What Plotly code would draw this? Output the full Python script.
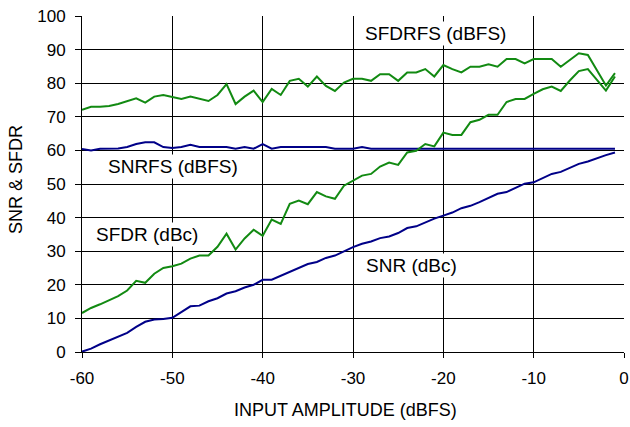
import plotly.graph_objects as go

x_vals = list(range(-60, 0))

snr_dbc = [0.1, 1.0, 2.3, 3.5, 4.5, 5.7, 7.5, 9.0, 9.7, 9.8,
           10.2, 11.8, 13.6, 13.8, 15.1, 16.0, 17.4, 18.1, 19.2, 20.0,
           21.5, 21.5, 22.7, 23.8, 25.0, 26.2, 26.8, 28.0, 28.7, 30.0,
           31.2, 32.2, 32.9, 33.9, 34.4, 35.4, 36.9, 37.4, 38.6, 39.7,
           40.6, 41.5, 42.8, 43.5, 44.6, 45.8, 47.1, 47.6, 48.8, 50.1,
           50.5, 51.8, 53.0, 53.6, 54.7, 56.0, 56.7, 57.7, 58.6, 59.4]

sfdr_dbc = [11.6, 13.1, 14.2, 15.4, 16.6, 18.3, 21.2, 20.6, 23.3, 25.0,
            25.5, 26.3, 27.8, 28.7, 28.7, 31.3, 35.2, 30.5, 33.8, 36.4,
            34.6, 39.4, 38.1, 44.1, 45.1, 44.0, 47.6, 46.3, 45.6, 49.5,
            51.1, 52.5, 53.0, 55.2, 56.4, 55.7, 59.4, 59.9, 61.9, 61.2,
            65.3, 64.6, 64.6, 68.4, 69.1, 70.6, 70.6, 74.4, 75.3, 75.3,
            76.8, 78.2, 79.0, 77.7, 80.8, 83.6, 84.2, 81.0, 77.8, 82.0]

sfdrfs_dbfs = [72.1, 73.0, 73.0, 73.2, 73.8, 74.7, 75.5, 74.2, 76.0, 76.5,
               76.0, 75.3, 76.0, 75.3, 74.7, 76.5, 79.7, 73.8, 76.0, 77.8,
               74.4, 78.3, 76.5, 80.7, 81.3, 79.0, 82.0, 79.2, 77.7, 80.2,
               81.3, 81.3, 80.7, 82.7, 82.7, 80.7, 83.2, 83.2, 84.2, 82.0,
               85.4, 84.2, 83.2, 84.9, 84.9, 85.6, 84.9, 87.2, 87.2, 85.9,
               87.2, 87.2, 87.2, 84.9, 86.9, 88.9, 88.4, 83.8, 79.3, 83.0]

snrfs_dbfs = [60.4, 60.0, 60.5, 60.5, 60.6, 61.0, 61.9, 62.4, 62.4, 61.0,
              60.7, 61.0, 61.7, 61.0, 61.0, 61.0, 61.0, 60.5, 61.0, 60.5,
              61.9, 60.5, 61.0, 61.0, 61.0, 61.0, 61.0, 61.0, 60.5, 60.5,
              60.5, 61.0, 60.5, 60.5, 60.5, 60.5, 60.5, 60.5, 60.5, 60.5,
              60.5, 60.5, 60.5, 60.5, 60.5, 60.5, 60.5, 60.5, 60.5, 60.5,
              60.5, 60.5, 60.5, 60.5, 60.5, 60.5, 60.5, 60.5, 60.5, 60.5]

x_ticks = [-60, -50, -40, -30, -20, -10, 0]
x_ticktext = ["-60", "-50", "-40", "-30", "-20", "-10", "0"]
y_ticks = [0, 10, 20, 30, 40, 50, 60, 70, 80, 90, 100]

GREEN = "#128a12"
BLUE = "#000088"
FONT = "Liberation Sans, Arial, sans-serif"

fig = go.Figure()
fig.add_trace(go.Scatter(x=x_vals, y=sfdrfs_dbfs, mode="lines", name="SFDRFS (dBFS)",
                         line=dict(color=GREEN, width=2)))
fig.add_trace(go.Scatter(x=x_vals, y=snrfs_dbfs, mode="lines", name="SNRFS (dBFS)",
                         line=dict(color=BLUE, width=2)))
fig.add_trace(go.Scatter(x=x_vals, y=sfdr_dbc, mode="lines", name="SFDR (dBc)",
                         line=dict(color=GREEN, width=2)))
fig.add_trace(go.Scatter(x=x_vals, y=snr_dbc, mode="lines", name="SNR (dBc)",
                         line=dict(color=BLUE, width=2)))

labels = [("SFDRFS (dBFS)", -20.84, 94.9),
          ("SNRFS (dBFS)", -49.96, 55.1),
          ("SFDR (dBc)", -52.76, 35.1),
          ("SNR (dBc)", -23.53, 25.6)]
for text, lx, ly in labels:
    fig.add_annotation(x=lx, y=ly, text=text, showarrow=False, bgcolor="white",
                       font=dict(family=FONT, size=19, color="black"), borderpad=1)

W, H = 630, 427
L, R, T, B = 82, 6, 16, 75
pw, ph = W - L - R, H - T - B

# axis titles placed as paper-anchored annotations (pixel centres converted)
fig.add_annotation(x=(345 - L) / pw, y=(H - B - 410) / ph, xref="paper", yref="paper",
                   xanchor="center", yanchor="middle",
                   text="INPUT AMPLITUDE (dBFS)", showarrow=False,
                   font=dict(family=FONT, size=18, color="black"))
fig.add_annotation(x=(16 - L) / pw, y=(H - B - 180) / ph, xref="paper", yref="paper",
                   xanchor="center", yanchor="middle",
                   text="SNR &amp; SFDR", showarrow=False, textangle=-90,
                   font=dict(family=FONT, size=18, color="black"))

fig.update_layout(
    width=W, height=H,
    margin=dict(l=L, r=R, t=T, b=B, autoexpand=False),
    paper_bgcolor="white", plot_bgcolor="white",
    showlegend=False,
    font=dict(family=FONT, size=17, color="black"),
    xaxis=dict(range=[-60, 0], tickvals=x_ticks, ticktext=x_ticktext,
               showgrid=True, gridcolor="black", gridwidth=1,
               showline=True, linecolor="black", linewidth=1, zeroline=False,
               ticks="outside", ticklen=5, tickcolor="black", automargin=False,
               ticklabelstandoff=6, tickfont=dict(family=FONT, size=17)),
    yaxis=dict(range=[0, 100], tickvals=y_ticks,
               showgrid=True, gridcolor="black", gridwidth=1,
               showline=True, linecolor="black", linewidth=1, zeroline=False,
               ticks="outside", ticklen=6, tickcolor="black", automargin=False,
               ticklabelstandoff=6, tickfont=dict(family=FONT, size=17)),
)

fig.write_html("out.html", config={"displayModeBar": False, "staticPlot": True},
               post_script="document.body.style.margin='0px';document.body.style.overflow='hidden';")
